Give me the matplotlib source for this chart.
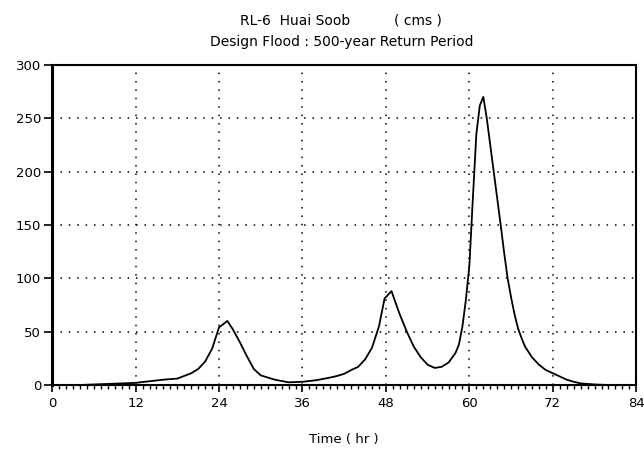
import numpy as np
import matplotlib.pyplot as plt
from matplotlib.ticker import MultipleLocator

# Flood hydrograph, RL-6 Huai Soob, 500-year design flood
time_hr = [0, 4, 8, 10, 12, 14, 16, 18, 19, 20, 21, 22, 23, 24, 25.2,
           26, 27, 28, 29, 30, 32, 34, 36, 38, 40, 41, 42, 43, 44, 45,
           46, 47, 47.8, 48.8, 49.5, 50, 51, 52, 53, 54, 55, 56, 57, 58,
           58.5, 59, 59.5, 60, 60.5, 61, 61.5, 62, 62.5, 63, 63.5, 64,
           64.5, 65, 65.5, 66, 66.5, 67, 67.5, 68, 69, 70, 71, 72, 73,
           74, 75, 76, 78, 80, 84]
flow_cms = [0, 0, 1, 1.5, 2, 3.5, 5, 6, 8.5, 11, 15, 22, 34, 54, 60,
            52, 40, 27, 15, 9, 5, 2.5, 3, 4.5, 7, 8.5, 10.5, 14, 17, 24,
            35, 55, 81, 88, 75, 66, 50, 36, 26, 19, 16, 17, 21, 30,
            38, 55, 80, 112, 175, 235, 262, 270, 250, 225, 200, 175,
            150, 124, 100, 82, 66, 53, 44, 36, 26, 19, 14, 11, 8,
            5, 3, 1.5, 0.5, 0, 0]

x_ticks = np.arange(0, 85, 12)
y_ticks = np.arange(0, 301, 50)

plt.rcParams['font.family'] = ['DejaVu Sans']

fig = plt.figure(figsize=(6.44, 4.54), dpi=100)
ax = fig.add_axes([0.081, 0.152, 0.907, 0.705])

ax.plot(time_hr, flow_cms, color='black', linewidth=1.3)

ax.set_xlim(0, 84)
ax.set_ylim(0, 300)
ax.set_xticks(x_ticks)
ax.set_yticks(y_ticks)
ax.xaxis.set_minor_locator(MultipleLocator(1))

# sparse dotted grid, as on the plotter output
ax.grid(True, which='major', color='black', linestyle=(0, (1, 4.5)), linewidth=1.1)

for side in ['top', 'right', 'bottom']:
    ax.spines[side].set_linewidth(1.5)
ax.spines['left'].set_linewidth(2.2)

ax.tick_params(axis='both', which='major', direction='out', length=5,
               width=1.2, labelsize=9.5, colors='black', pad=2)
ax.tick_params(axis='x', which='minor', direction='out', length=3, width=1)
ax.tick_params(axis='x', which='major', pad=4)
ax.tick_params(axis='y', which='major', length=6)

ax.set_xlabel('Time ( hr )', fontsize=9.5, labelpad=16)
fig.text(0.53, 0.955, 'RL-6  Huai Soob          ( cms )',
         ha='center', va='center', fontsize=10)
fig.text(0.53, 0.907, 'Design Flood : 500-year Return Period',
         ha='center', va='center', fontsize=10)

fig.savefig('out.png', dpi=100, facecolor='white')
